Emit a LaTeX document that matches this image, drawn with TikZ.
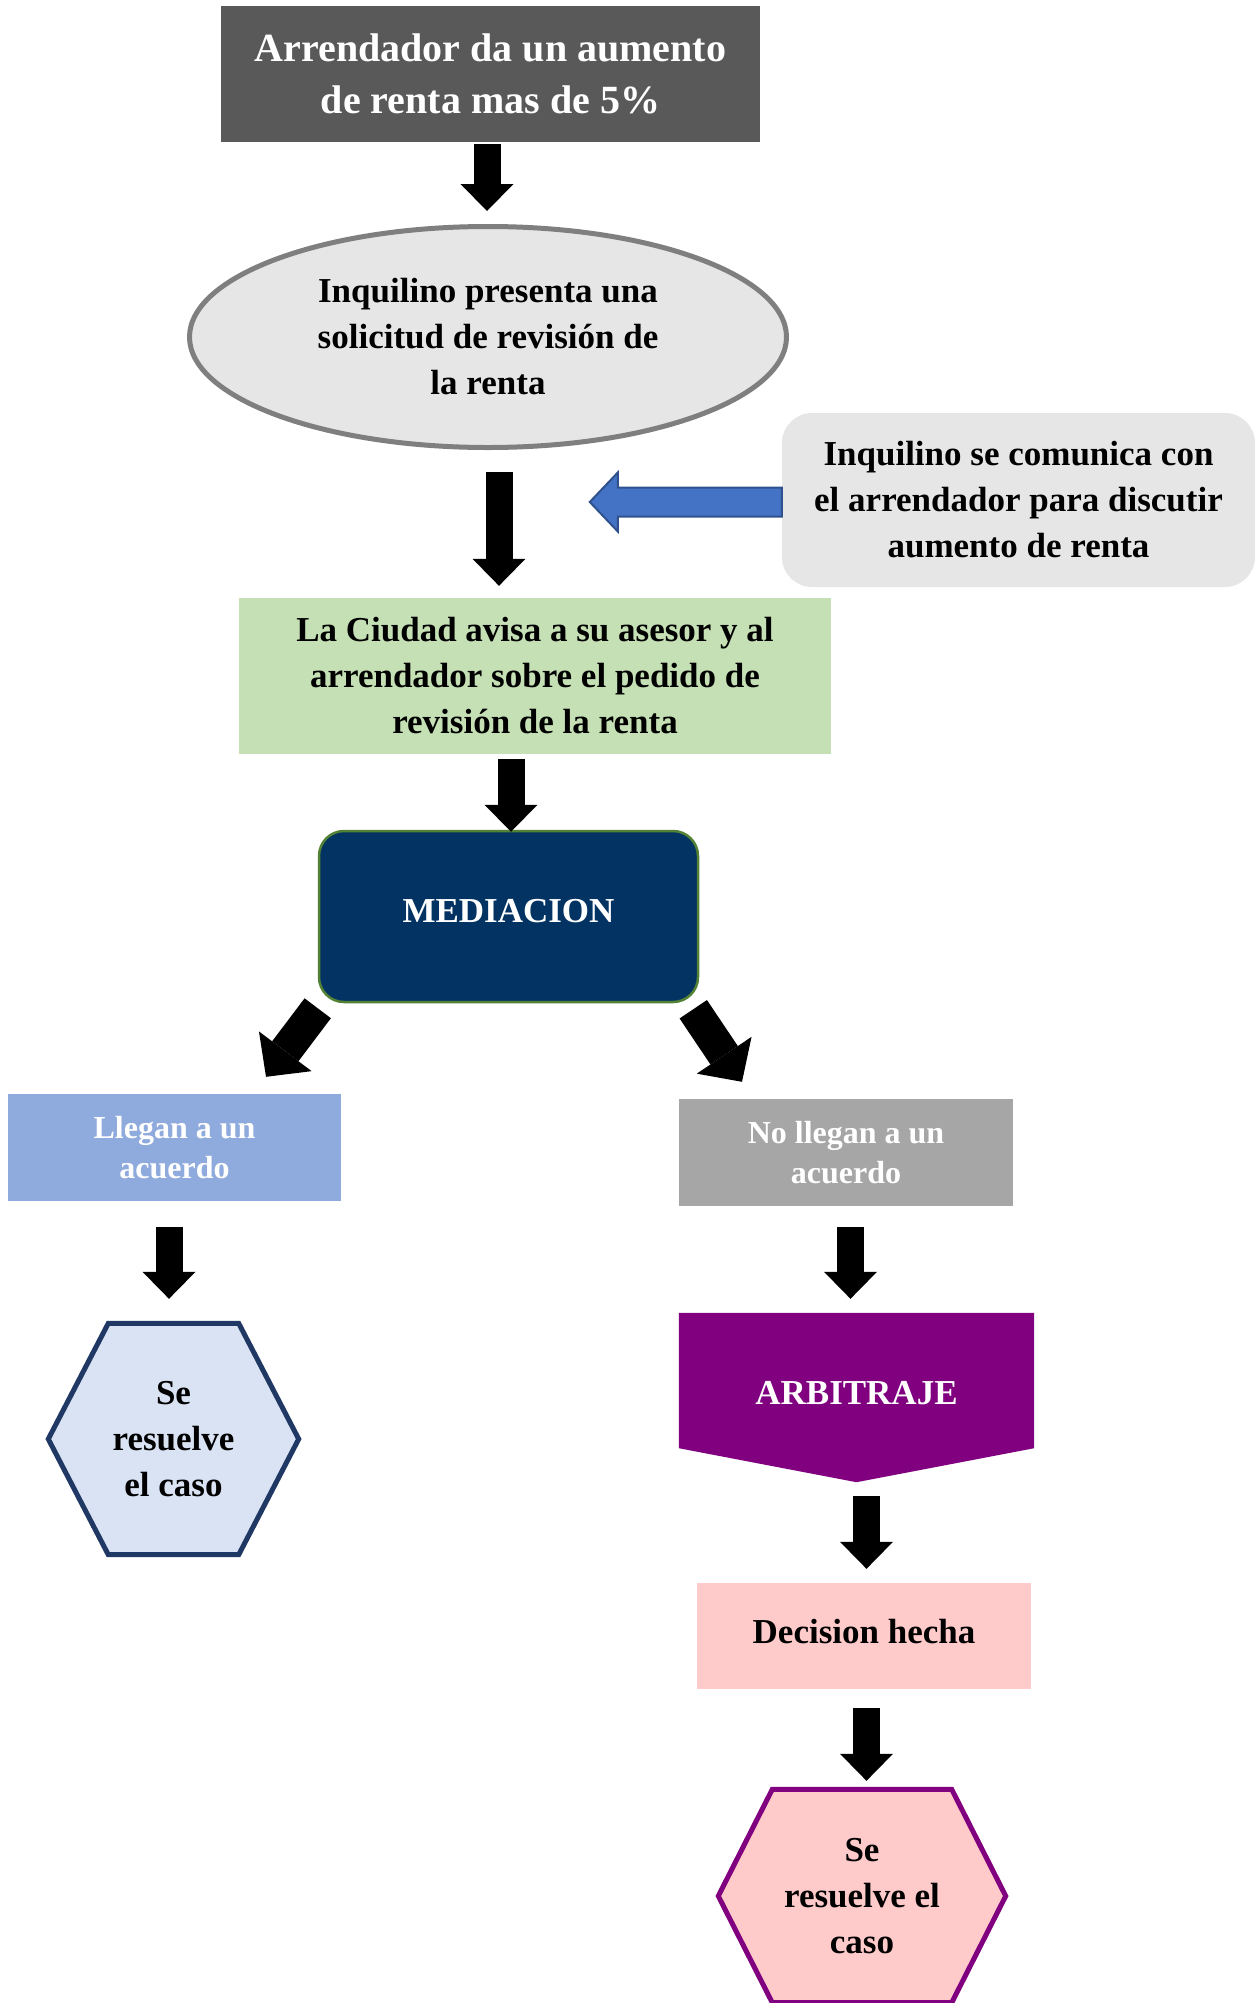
\documentclass[tikz,border=0pt]{standalone}
\usepackage{fontspec}
\setmainfont{Liberation Serif}
\usepackage{tikz}
\usetikzlibrary{arrows.meta}
\usetikzlibrary{shapes.geometric}

\pgfdeclarelayer{background}
\pgfsetlayers{background,main}

\definecolor{startgrey}{HTML}{595959}
\definecolor{greybox}{HTML}{E7E6E6}
\definecolor{ellgrey}{HTML}{7F7F7F}
\definecolor{greensoft}{HTML}{C5E0B4}
\definecolor{mednavy}{HTML}{033363}
\definecolor{medgreen}{HTML}{538135}
\definecolor{blueyes}{HTML}{8FAADC}
\definecolor{greyno}{HTML}{A6A6A6}
\definecolor{hexblue}{HTML}{DAE3F3}
\definecolor{hexnavy}{HTML}{203864}
\definecolor{arbpurple}{HTML}{800080}
\definecolor{pinkbox}{HTML}{FFCACA}
\definecolor{arrblue}{HTML}{4472C4}
\definecolor{arrblueline}{HTML}{2F528F}

\tikzset{
	flow/.style={rectangle, inner sep=0pt, align=center, font=\fontsize{35}{46}\selectfont\bfseries},
	blk/.style={line width=27pt, -{Triangle[width=53pt,length=27pt,line width=0pt]}},
	blkd/.style={line width=33pt, -{Triangle[width=66pt,length=32pt,line width=0pt]}},
	hexline/.style={line width=5pt, line join=miter}
}

\begin{document}
\begin{tikzpicture}[x=1pt,y=-1pt]
	\path[use as bounding box] (0,0) rectangle (1255,2003);
	\node[flow, fill=startgrey, text=white, minimum width=539pt, minimum height=136pt, font=\fontsize{40}{52}\selectfont\bfseries] (aumento) at (490.5,74) {Arrendador da un aumento\\de renta mas de 5\%};
	\node[ellipse, draw=ellgrey, line width=5pt, fill=greybox, minimum width=597pt, minimum height=221pt, inner sep=0pt, align=center, font=\fontsize{35}{46}\selectfont\bfseries] (solicitud) at (488,337) {Inquilino presenta una\\solicitud de revisión de\\la renta};
	\node[flow, fill=greybox, rounded corners=30pt, minimum width=473pt, minimum height=174pt] (comunica) at (1018.5,500) {Inquilino se comunica con\\el arrendador para discutir\\aumento de renta};
	\node[flow, fill=greensoft, minimum width=592pt, minimum height=156pt] (ciudad) at (535,676) {La Ciudad avisa a su asesor y al\\arrendador sobre el pedido de\\revisión de la renta};
	\node[flow, draw=medgreen, line width=2.5pt, fill=mednavy, text=white, rounded corners=25pt, minimum width=379pt, minimum height=171pt] (mediacion) at (508.5,916.5) {\raisebox{11pt}{MEDIACION}};
	\node[flow, fill=blueyes, text=white, minimum width=333pt, minimum height=107pt, font=\fontsize{32}{40}\selectfont\bfseries] (llegan) at (174.5,1147.5) {Llegan a un\\acuerdo};
	\node[flow, fill=greyno, text=white, minimum width=334pt, minimum height=107pt, font=\fontsize{32}{40}\selectfont\bfseries] (nollegan) at (846,1152.5) {No llegan a un\\acuerdo};
	\node[flow, minimum width=250pt, minimum height=231pt] (resuelveA) at (173.5,1439) {Se\\resuelve\\el caso};
	\node[flow, text=white, minimum width=355pt, minimum height=169pt] (arbitraje) at (856.5,1397.5) {\raisebox{9pt}{ARBITRAJE}};
	\node[flow, fill=pinkbox, minimum width=334pt, minimum height=106pt] (decision) at (864,1636) {\raisebox{10pt}{Decision hecha}};
	\node[flow, minimum width=287pt, minimum height=213pt] (resuelveB) at (862,1896) {Se\\resuelve el\\caso};

	% shapes behind the texts
	\begin{pgfonlayer}{background}
		\fill[white] (0,0) rectangle (1255,2003);
		\draw[hexline, draw=hexnavy, fill=hexblue] (resuelveA.west) -- ([xshift=60pt]resuelveA.north west) -- ([xshift=-60pt]resuelveA.north east) -- (resuelveA.east) -- ([xshift=-60pt]resuelveA.south east) -- ([xshift=60pt]resuelveA.south west) -- cycle;
		\fill[arbpurple] (arbitraje.north west) -- (arbitraje.north east) -- ([yshift=34pt]arbitraje.south east) -- (arbitraje.south) -- ([yshift=34pt]arbitraje.south west) -- cycle;
		\draw[hexline, draw=arbpurple, fill=pinkbox] (resuelveB.west) -- ([xshift=54pt]resuelveB.north west) -- ([xshift=-54pt]resuelveB.north east) -- (resuelveB.east) -- ([xshift=-54pt]resuelveB.south east) -- ([xshift=54pt]resuelveB.south west) -- cycle;
	\end{pgfonlayer}

	% arrows
	\draw[blk] ([shift={(-3.5,2)}]aumento.south) -- ([shift={(-1,-13)}]solicitud.north);
	\draw[blk] ([shift={(11,22)}]solicitud.south) -- ([shift={(-36,-12)}]ciudad.north);
	\draw[blk] ([shift={(-24,5)}]ciudad.south) -- ([shift={(2.5,2)}]mediacion.north);
	\draw[blkd] ([shift={(0,5)}]mediacion.south west) -- ([shift={(91.5,-17)}]llegan.north);
	\draw[blkd] ([shift={(-6,6)}]mediacion.south east) -- ([shift={(-104,-17)}]nollegan.north);
	\draw[blk] ([shift={(-5.5,26)}]llegan.south) -- ([shift={(-4.5,-24.5)}]resuelveA.north);
	\draw[blk] ([shift={(4.5,21)}]nollegan.south) -- ([shift={(-6,-14)}]arbitraje.north);
	\draw[blk] ([shift={(10,14)}]arbitraje.south) -- ([shift={(2.5,-14)}]decision.north);
	\draw[blk] ([shift={(2.5,19)}]decision.south) -- ([shift={(4.5,-8.5)}]resuelveB.north);
	\draw[line width=2pt, draw=arrblueline, fill=arrblue, line join=miter] ([shift={(0,-12.5)}]comunica.west) -- ++(-164,0) -- ++(0,-15) -- ++(-28,29.5) -- ++(28,29.5) -- ++(0,-15) -- ++(164,0) -- cycle;
\end{tikzpicture}
\end{document}
